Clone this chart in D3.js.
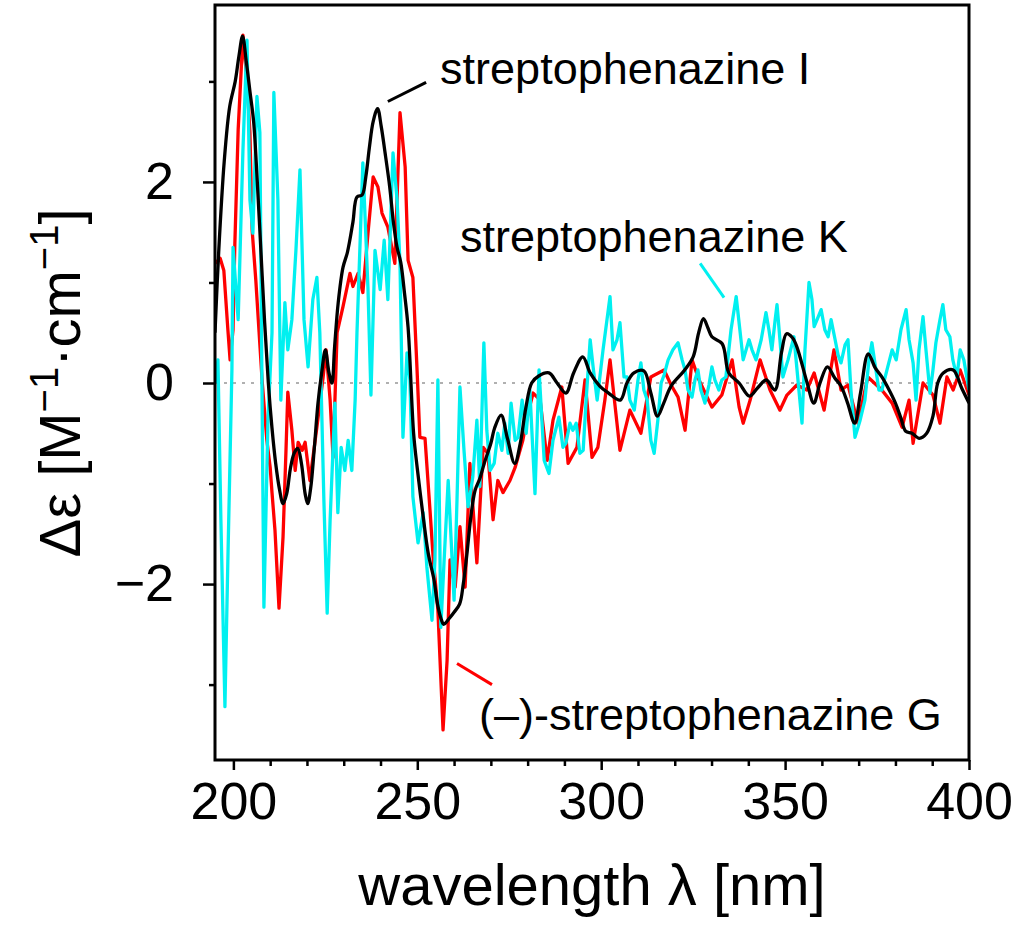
<!DOCTYPE html>
<html>
<head>
<meta charset="utf-8">
<script src="https://cdn.jsdelivr.net/npm/d3@7"></script>
<style>
  body { margin: 0; background: #fff; }
  svg { display: block; font-family: "Liberation Sans", Arial, sans-serif; }
</style>
</head>
<body>
<svg id="chart" width="1024" height="943"></svg>
<script>
// wavelength [nm], delta epsilon
const spzI = [[195,0.5],[196,1.3],[197.5,2.2],[199,2.75],[200.5,3.0],[201.5,3.25],[202.5,3.45],[203.5,3.2],[204.5,2.9],[205.5,2.6],[206.5,2.0],[207.5,1.3],[208.5,0.6],[209.5,0.0],[210.5,-0.45],[211.5,-0.8],[212.5,-1.05],[213.5,-1.2],[214.5,-1.1],[215.5,-0.85],[216.5,-0.7],[217.5,-0.65],[218.5,-0.8],[219.5,-1.1],[220.2,-1.2],[221,-1.05],[222,-0.65],[223,-0.2],[224,0.1],[225,0.33],[226,0.1],[226.8,0.0],[227.5,0.35],[228.5,0.8],[229.8,1.15],[231,1.3],[232.5,1.6],[233.6,1.85],[235,1.87],[236,2.05],[237,2.35],[238,2.6],[239.2,2.73],[240.2,2.55],[241.2,2.3],[242.5,1.95],[243.5,1.6],[244.5,1.35],[245.5,1.2],[246.5,0.9],[247.5,0.55],[249,-0.5],[250,-0.85],[251.5,-1.3],[253,-1.7],[254.5,-1.95],[255.5,-2.2],[256.5,-2.35],[257.2,-2.4],[258.5,-2.35],[260,-2.28],[261.5,-2.2],[262.5,-2.0],[263.5,-1.7],[264.5,-1.35],[265.7,-1.07],[267,-0.95],[268.2,-0.8],[270,-0.6],[271,-0.45],[272.8,-0.32],[274.5,-0.55],[276.5,-0.8],[278,-0.6],[279.5,-0.25],[281.1,0.0],[283,0.07],[285.8,0.1],[288,0.0],[290.4,-0.1],[292.5,0.1],[295,0.26],[297,0.1],[299.6,-0.03],[302,-0.1],[305.2,-0.17],[307,0.0],[308.9,0.1],[311.6,0.12],[313.5,-0.1],[315.3,-0.33],[317,-0.2],[319,-0.03],[322.7,0.13],[325,0.26],[326.5,0.5],[327.8,0.64],[329,0.55],[330.1,0.46],[332.9,0.39],[334.7,0.1],[337.5,0.0],[340.3,-0.13],[342.5,-0.05],[344.9,0.03],[347.2,-0.07],[349,0.3],[350.4,0.49],[352,0.45],[353.2,0.36],[356,0.0],[357.8,-0.2],[359.5,0.0],[361.5,0.16],[363.5,0.05],[365.2,-0.03],[367,-0.2],[368.9,-0.4],[370.5,-0.1],[372.6,0.29],[374.5,0.15],[376.3,0.06],[378,-0.05],[380,-0.2],[381.5,-0.35],[382.8,-0.48],[384.5,-0.5],[386.5,-0.55],[388.5,-0.5],[390.2,-0.33],[391.5,0.0],[393,0.1],[395.7,0.13],[398,-0.05],[400,-0.2]];

const spzG = [[195,1.19],[196.4,1.24],[197.4,1.12],[198.5,0.53],[199.1,0.23],[199.9,0.53],[200.4,1.39],[201.3,2.52],[202.6,3.46],[203.7,3.01],[204.5,2.49],[205.1,1.52],[206.1,1.02],[207.8,0.03],[209.1,-0.57],[210,-0.84],[210.5,-1.09],[211.3,-1.46],[212.4,-2.24],[213.5,-1.53],[214.3,-0.67],[214.8,-0.09],[215.9,-0.47],[216.8,-0.87],[217.6,-0.59],[218.7,-0.67],[219.5,-0.59],[220.8,-0.97],[222.7,-0.44],[224.4,0.06],[225.2,0.33],[226.3,-0.17],[227.1,-0.74],[228.2,0.5],[229.8,0.76],[231.7,1.09],[232.5,0.96],[233.9,1.09],[235.2,0.9],[236.6,1.49],[238,2.05],[239.3,1.95],[240.4,1.69],[242,1.55],[243.9,1.19],[245.3,2.69],[246.7,2.15],[247.5,1.22],[248.8,1.05],[249.9,0.16],[250.7,-0.54],[252.1,-0.55],[253.5,-1.29],[254.3,-1.73],[255.6,-2.26],[257,-3.45],[258.1,-2.76],[258.9,-1.76],[260.3,-2.03],[261.6,-1.43],[263,-2.03],[264.3,-0.8],[266.2,-1.79],[267.9,-0.64],[269.2,-0.7],[270.6,-1.36],[271.9,-0.97],[273.3,-1.09],[275.2,-0.97],[276.6,-0.84],[278.7,-0.57],[280.1,-0.3],[281.5,-0.1],[283.4,-0.17],[285.3,-0.77],[286.9,-0.37],[289.3,-0.04],[291,-0.8],[293.4,-0.64],[295.6,0.03],[297.5,-0.74],[299.1,-0.64],[301,-0.17],[302.4,0.23],[305.1,-0.67],[307.8,-0.27],[310.8,-0.5],[313.5,0.06],[317.1,0.13],[319,-0.02],[320.9,-0.14],[322.8,-0.47],[324.7,0.23],[326.6,0.03],[330.1,-0.24],[332.8,-0.12],[335.6,0.23],[337.5,-0.24],[338.6,-0.4],[340.5,-0.17],[343.2,0.23],[345.9,-0.07],[348.6,-0.27],[350.5,-0.12],[353.2,-0.02],[355.9,-0.07],[357.9,0.1],[360.6,-0.27],[363.3,0.33],[365.2,-0.07],[367.1,-0.02],[369.8,-0.4],[372.5,0.06],[376.3,-0.07],[379.1,-0.2],[381.8,-0.44],[383.7,-0.17],[384.8,-0.6],[387.5,0.0],[390.2,-0.12],[392.1,-0.4],[394,0.06],[395.7,-0.07],[397.6,0.13],[400,-0.12]];

const spzK = [[195,0.0],[195.8,0.23],[196.6,-1.36],[197.7,-3.22],[198.5,-1.76],[199.6,0.13],[199.9,1.35],[201.3,0.63],[202.6,2.32],[203.7,3.41],[204.5,1.82],[205.3,1.49],[206.4,2.85],[207.2,2.49],[207.8,-0.17],[208.3,-2.23],[209.4,-0.37],[210.5,0.5],[211,2.89],[212.1,1.82],[212.9,-0.17],[214,0.8],[214.8,0.33],[215.9,0.63],[217,1.32],[218.1,2.12],[219.2,0.63],[220.3,0.16],[221.6,0.83],[222.7,1.05],[223.5,0.5],[224.6,-1.16],[225.5,-2.29],[226.3,-1.36],[227.6,-0.2],[228.4,-1.29],[229.3,-0.64],[230.3,-0.87],[231.2,-0.57],[232.2,-0.87],[233.1,-0.17],[233.6,0.5],[235.2,2.19],[236.6,0.93],[237.4,-0.12],[238.5,1.32],[239.9,0.93],[241,1.42],[242,0.83],[243.4,2.29],[244.5,1.82],[245.3,1.19],[246.1,-0.54],[247.2,0.3],[248,0.03],[248.8,-1.13],[250.2,-1.59],[251.6,-1.29],[252.6,-1.83],[254,-2.36],[254.8,-1.76],[255.6,0.03],[256.4,-2.43],[257.3,-1.76],[258.4,-0.97],[259.2,-1.56],[260,-2.16],[260.8,-1.16],[261.6,-0.04],[262.7,-0.67],[263.8,-1.23],[264.6,-1.06],[265.1,-0.93],[266.2,-0.37],[267,-1.03],[268.1,0.4],[268.9,-0.47],[269.8,-0.87],[270.9,-0.8],[271.9,-0.5],[273,-0.67],[273.8,-0.4],[274.7,-0.7],[275.5,-0.2],[276.6,-0.57],[277.4,-0.54],[278.5,-0.17],[279.6,-0.5],[280.6,-0.07],[282,-1.1],[283.1,0.13],[284.5,-0.77],[285.8,-0.9],[286.9,-0.57],[288.5,-0.34],[289.6,-0.64],[290.4,-0.6],[291.5,-0.4],[292.3,-0.47],[293.2,-0.4],[294.2,-0.7],[295.1,-0.67],[295.9,-0.17],[297,0.43],[297.8,0.16],[298.9,-0.17],[300.5,0.33],[302.4,0.86],[303.2,0.33],[304.3,0.43],[305.1,0.6],[306.2,0.06],[307,0.06],[307.8,-0.17],[309,-0.27],[310,0.03],[310.8,0.2],[311.6,-0.07],[312.5,-0.17],[313.5,-0.57],[314.4,-0.7],[315.4,-0.37],[316.3,0.0],[317.1,0.08],[318.2,0.23],[319.5,0.33],[320.9,0.4],[322,0.23],[322.8,0.13],[323.6,-0.07],[324.7,-0.14],[325.5,0.03],[326.3,0.13],[327.1,-0.07],[328.2,-0.2],[329.3,-0.02],[330.1,0.16],[330.9,0.03],[332,-0.07],[332.8,0.03],[333.9,0.06],[335.3,0.53],[336.7,0.86],[337.7,0.53],[338.6,0.23],[339.4,0.33],[340.2,0.43],[341,0.33],[342.1,0.23],[343.5,0.43],[344.8,0.7],[345.6,0.53],[346.4,0.33],[347.3,0.63],[347.8,0.78],[348.6,0.43],[349.4,0.06],[350.8,0.23],[352.4,0.46],[353.5,0.03],[354.6,-0.4],[355.4,0.33],[356.5,1.0],[357.3,0.83],[357.9,0.56],[358.7,0.63],[359.8,0.73],[360.8,0.53],[361.7,0.46],[362.5,0.63],[363.6,0.43],[364.4,0.28],[365.2,0.2],[366.3,0.38],[367.1,0.43],[367.9,-0.07],[369,-0.54],[370.4,-0.37],[371.7,-0.17],[372.8,0.23],[373.6,0.4],[374.7,0.13],[375.5,-0.07],[376.3,-0.07],[377.7,0.13],[379.1,0.33],[380.2,0.23],[381.5,0.53],[382.9,0.73],[383.7,0.43],[384.8,0.2],[385.6,-0.17],[386.4,0.33],[387.5,0.66],[388.3,0.33],[389.4,-0.1],[390.2,0.13],[391,0.4],[392.1,0.63],[392.9,0.78],[393.7,0.53],[394.8,0.46],[395.6,0.23],[396.7,0.06],[397.6,0.33],[398.6,0.23],[400,-0.07]];

const xMajor = [200, 250, 300, 350, 400];
const xMinor = [210, 220, 230, 240, 260, 270, 280, 290, 310, 320, 330, 340, 360, 370, 380, 390];
const yMajor = [-2, 0, 2];
const yMinor = [-3, -1, 1, 3];

// label text, anchor point of text (nm, value), pointer line from/to
const labels = [
    { text: 'streptophenazine I', color: '#000', at: [256.2, 2.97], line: [[242.0, 2.80], [252.4, 2.99]] },
    { text: 'streptophenazine K', color: '#00f0f0', at: [261.6, 1.30], line: [[326.9, 1.19], [333.4, 0.85]] },
    { text: '(\u2013)-streptophenazine G', color: '#ff0000', at: [266.8, -3.45], line: [[260.8, -2.79], [270.3, -3.0]] }
];

const plotLeft = 215, plotRight = 969, plotTop = 5, plotBottom = 760;

const svg = d3.select('#chart');

const x = d3.scaleLinear().domain([195, 400]).range([plotLeft, plotRight]);
const y = d3.scaleLinear().domain([-3.75, 3.76]).range([plotBottom, plotTop]);

svg.append('defs').append('clipPath').attr('id', 'plot')
    .append('rect')
    .attr('x', plotLeft).attr('y', plotTop)
    .attr('width', plotRight - plotLeft).attr('height', plotBottom - plotTop);

// zero line
svg.append('line')
    .attr('x1', plotLeft).attr('x2', plotRight)
    .attr('y1', y(0)).attr('y2', y(0))
    .attr('stroke', '#b0b0b0')
    .attr('stroke-width', 2)
    .attr('stroke-dasharray', '3,6');

const line = d3.line()
    .x(d => x(d[0]))
    .y(d => y(d[1]));

const curves = svg.append('g').attr('clip-path', 'url(#plot)');

[[spzG, '#ff0000', d3.curveLinear], [spzK, '#00f0f0', d3.curveLinear], [spzI, '#000000', d3.curveCatmullRom]]
    .forEach(([data, color, curve]) => {
        curves.append('path')
            .datum(data)
            .attr('fill', 'none')
            .attr('stroke', color)
            .attr('stroke-width', 3.3)
            .attr('stroke-linejoin', 'round')
            .attr('d', line.curve(curve));
    });

// axes
const xAxis = svg.append('g').attr('transform', `translate(0,${plotBottom})`);
xAxis.append('g')
    .call(d3.axisBottom(x).tickValues(xMinor).tickSize(6).tickFormat(''));
xAxis.append('g')
    .call(d3.axisBottom(x).tickValues(xMajor).tickSize(10).tickPadding(12).tickFormat(d3.format('d')));

const yAxis = svg.append('g').attr('transform', `translate(${plotLeft},0)`);
yAxis.append('g')
    .call(d3.axisLeft(y).tickValues(yMinor).tickSize(6).tickFormat(''));
yAxis.append('g')
    .call(d3.axisLeft(y).tickValues(yMajor).tickSize(12).tickPadding(29).tickFormat(d3.format('d')));

svg.selectAll('.domain').remove();
svg.selectAll('.tick line').attr('stroke', '#000').attr('stroke-width', 2.5);
svg.selectAll('.tick text')
    .attr('fill', '#000')
    .style('font-size', '52px')
    .style('font-family', '"Liberation Sans", Arial, sans-serif');

// frame
svg.append('rect')
    .attr('x', plotLeft).attr('y', plotTop)
    .attr('width', plotRight - plotLeft).attr('height', plotBottom - plotTop)
    .attr('fill', 'none')
    .attr('stroke', '#000')
    .attr('stroke-width', 3);

// axis titles
svg.append('text')
    .attr('x', (plotLeft + plotRight) / 2)
    .attr('y', 905)
    .attr('text-anchor', 'middle')
    .style('font-size', '58px')
    .text('wavelength \u03bb [nm]');

const yTitle = svg.append('text')
    .attr('transform', `translate(80,${y(0)}) rotate(-90)`)
    .attr('text-anchor', 'middle')
    .style('font-size', '58px');
yTitle.append('tspan').text('\u0394\u03b5 [M');
yTitle.append('tspan').attr('dy', -22).style('font-size', '40px').text('\u22121');
yTitle.append('tspan').attr('dy', 22).text('\u00b7cm');
yTitle.append('tspan').attr('dy', -22).style('font-size', '40px').text('\u22121');
yTitle.append('tspan').attr('dy', 22).text(']');

// curve labels
labels.forEach(l => {
    svg.append('line')
        .attr('x1', x(l.line[0][0])).attr('y1', y(l.line[0][1]))
        .attr('x2', x(l.line[1][0])).attr('y2', y(l.line[1][1]))
        .attr('stroke', l.color)
        .attr('stroke-width', 3);
    svg.append('text')
        .attr('x', x(l.at[0]))
        .attr('y', y(l.at[1]))
        .style('font-size', '45px')
        .text(l.text);
});
</script>
</body>
</html>
